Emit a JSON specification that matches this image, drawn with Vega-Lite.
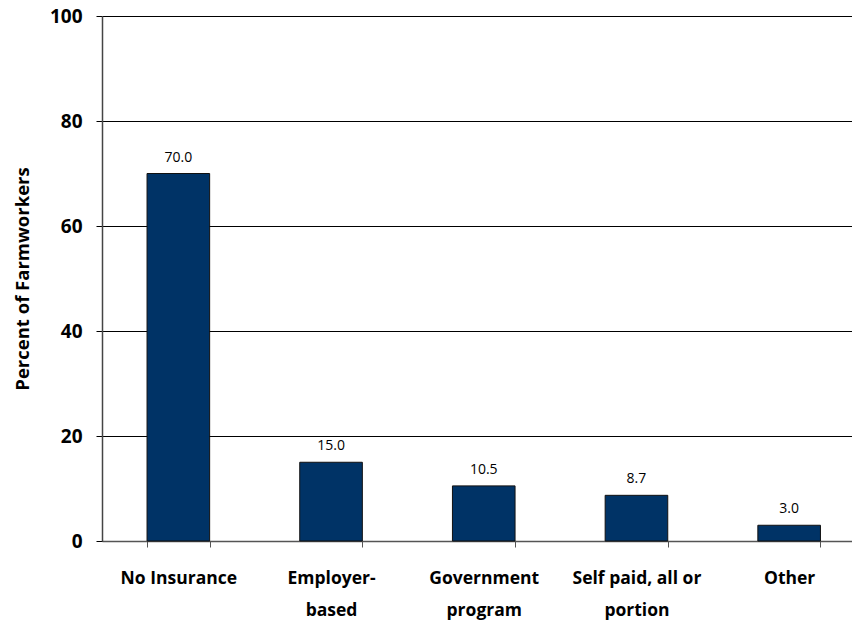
{
  "$schema": "https://vega.github.io/schema/vega-lite/v6.json",
  "width": 750,
  "height": 525,
  "autosize": "none",
  "padding": {"left": 102, "top": 16, "right": 0, "bottom": 81},
  "background": "white",
  "config": {
    "view": {"stroke": null},
    "font": "Open Sans"
  },
  "data": {
    "values": [
      {"category": "No Insurance", "percent": 70.0, "label": "70.0"},
      {"category": "Employer-|based", "percent": 15.0, "label": "15.0"},
      {"category": "Government|program", "percent": 10.5, "label": "10.5"},
      {"category": "Self paid, all or|portion", "percent": 8.7, "label": "8.7"},
      {"category": "Other", "percent": 3.0, "label": "3.0"}
    ]
  },
  "encoding": {
    "x": {
      "field": "category",
      "type": "nominal",
      "sort": null,
      "scale": {"range": [0, 763.5], "paddingInner": 0.59, "paddingOuter": 0.295},
      "axis": {
        "title": null,
        "labelAngle": 0,
        "labelExpr": "split(datum.label, '|')",
        "labelFont": "Open Sans",
        "labelFontWeight": "bold",
        "labelFontSize": 17.5,
        "labelColor": "black",
        "labelLineHeight": 32,
        "labelBaseline": "top",
        "labelPadding": 22,
        "tickBand": "extent",
        "tickSize": 6,
        "tickColor": "#555555",
        "domainColor": "#555555",
        "domainWidth": 1.5,
        "labelLimit": 300
      }
    },
    "y": {
      "field": "percent",
      "type": "quantitative",
      "scale": {"domain": [0, 100], "nice": false},
      "axis": {
        "title": "Percent of Farmworkers",
        "titleFont": "Open Sans",
        "titleFontWeight": "bold",
        "titleFontSize": 18.5,
        "titleColor": "black",
        "titlePadding": 17,
        "values": [0, 20, 40, 60, 80, 100],
        "labelFont": "Open Sans",
        "labelFontWeight": "bold",
        "labelFontSize": 19,
        "labelColor": "black",
        "labelPadding": 14,
        "tickSize": 6,
        "tickColor": "black",
        "grid": true,
        "gridColor": "black",
        "gridWidth": 1,
        "gridOpacity": 1,
        "domainColor": "#444444",
        "domainWidth": 1.5
      }
    }
  },
  "layer": [
    {
      "mark": {"type": "bar", "color": "#003366", "stroke": "#111111", "strokeWidth": 1}
    },
    {
      "mark": {"type": "text", "baseline": "bottom", "dy": -9, "fontSize": 14, "font": "Open Sans", "color": "black"},
      "encoding": {"text": {"field": "label"}}
    }
  ]
}
